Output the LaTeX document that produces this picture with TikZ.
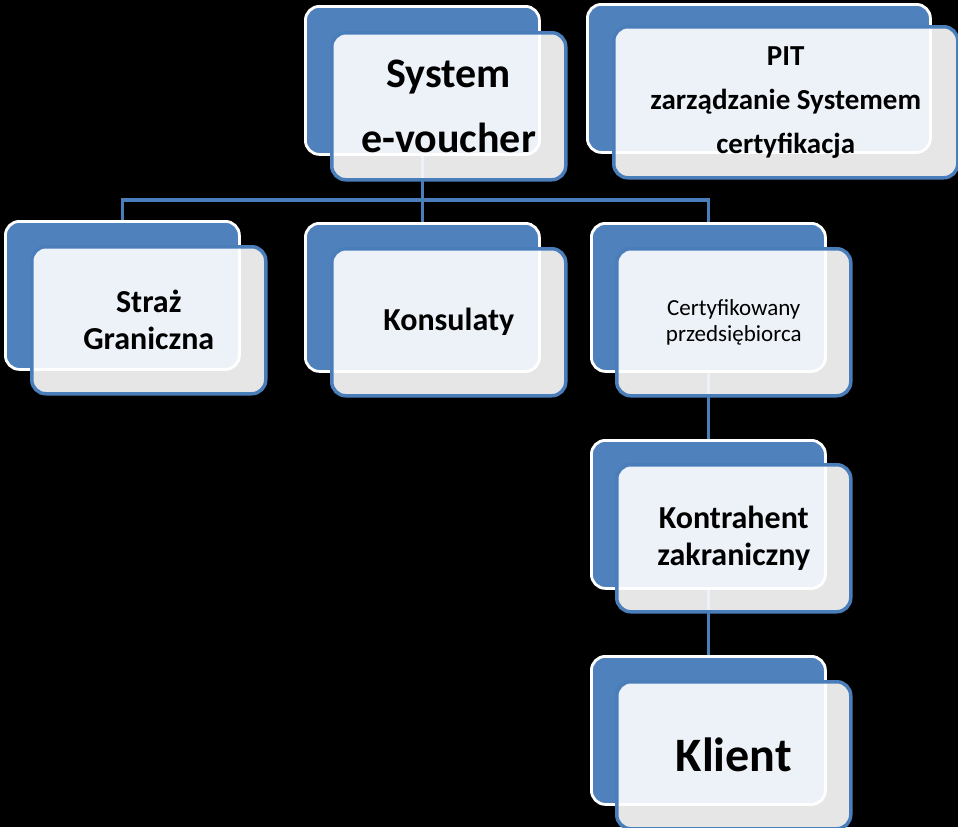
\documentclass[tikz,border=0pt]{standalone}
\usepackage{fontspec}
\setmainfont{Carlito}
\definecolor{boxblue}{RGB}{79,129,189}
\definecolor{lineblue}{RGB}{74,126,187}
\tikzset{
  back/.style={draw=white, line width=2.8pt, fill=boxblue, rounded corners=14pt,
    anchor=north west, minimum width=234pt, minimum height=148pt, inner sep=0pt},
  front/.style={draw=lineblue, line width=3.5pt, fill=white, fill opacity=0.9, text opacity=1,
    rounded corners=14pt, anchor=north west, minimum width=234pt, minimum height=147pt,
    inner sep=0pt, align=center, font=\bfseries},
  link/.style={draw=lineblue, line width=3.5pt},
}
\begin{document}
\begin{tikzpicture}[x=1pt,y=-1pt]
\fill[black] (0,0) rectangle (958,827);
\useasboundingbox (0,0) rectangle (958,827);
% back boxes
\node[back] (sys) at (304,5) {};
\node[back, minimum width=343pt] (pit) at (586,3) {};
\node[back] (straz) at (4,220) {};
\node[back] (kons) at (304,222) {};
\node[back] (cert) at (590,222) {};
\node[back] (kontr) at (590,439) {};
\node[back] (klient) at (590,655) {};
% connectors
\coordinate (bus) at (sys.south |- 0,200);
\draw[link] (sys.south) -- (bus);
\draw[link] (straz.north) |- (bus) -| (cert.north);
\draw[link] (bus) -- (kons.north);
\draw[link] (cert.south) -- (kontr.north);
\draw[link] (kontr.south) -- (klient.north);
% front boxes
\node[front, font=\bfseries\fontsize{42}{65}\selectfont] (sysf) at (330,31)
  {System\\e-voucher};
\node[front, minimum width=344pt, minimum height=151pt,
  font=\bfseries\fontsize{29}{44}\selectfont] (pitf) at (612,25)
  {PIT\\zarządzanie Systemem\\certyfikacja};
\node[front, font=\bfseries\fontsize{32}{37}\selectfont] (strazf) at (30,245)
  {Straż\\Graniczna};
\node[front, font=\bfseries\fontsize{32}{37}\selectfont] (konsf) at (330,247)
  {Konsulaty};
\node[front, font=\fontsize{23}{26}\selectfont] (certf) at (615,247)
  {Certyfikowany\\przedsiębiorca};
\node[front, font=\bfseries\fontsize{32}{37}\selectfont] (kontrf) at (615,463)
  {Kontrahent\\zakraniczny};
\node[front, font=\bfseries\fontsize{48}{58}\selectfont] (klientf) at (615,680)
  {Klient};
\end{tikzpicture}
\end{document}
